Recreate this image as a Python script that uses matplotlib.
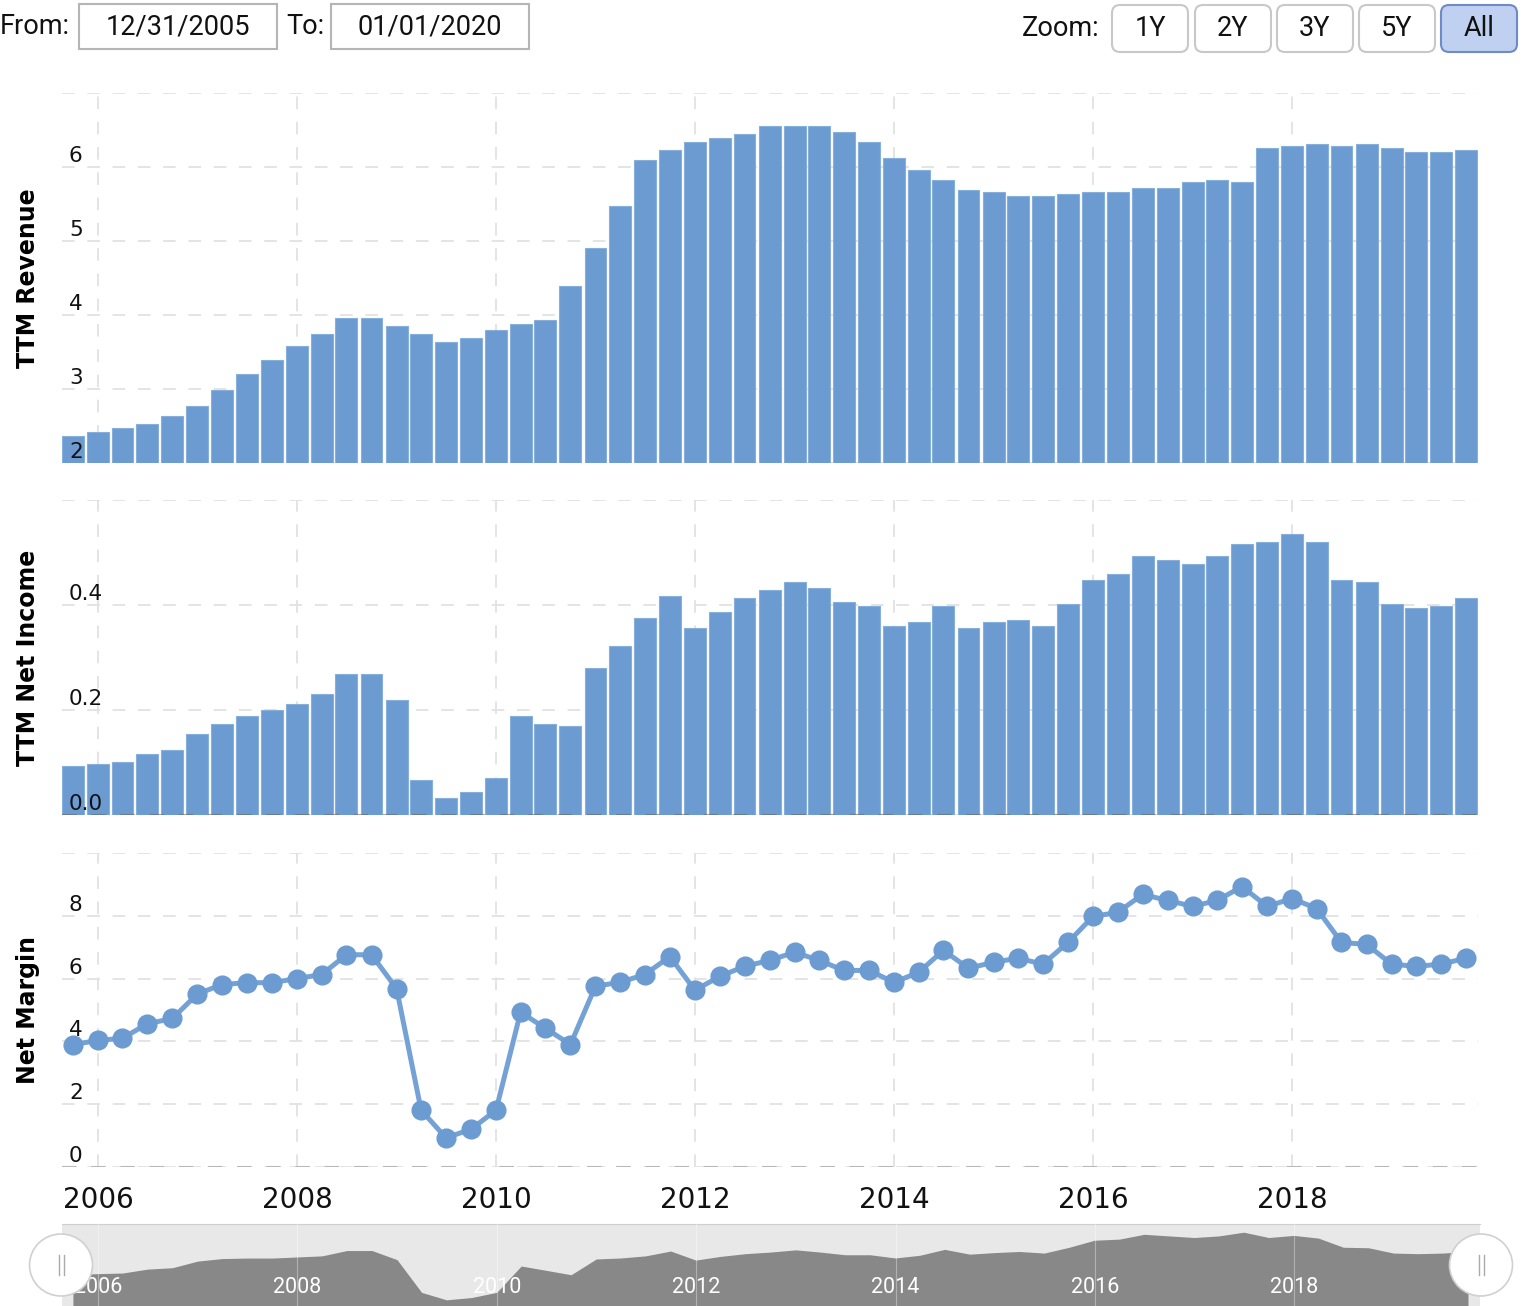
import matplotlib
matplotlib.use("Agg")
import matplotlib.pyplot as plt
import matplotlib.dates as mdates
import matplotlib.transforms as mtrans
from matplotlib.patches import FancyBboxPatch, Ellipse, Rectangle

# ---------------- data ----------------
quarters = [
    "2005-09-30", "2005-12-31",
    "2006-03-31", "2006-06-30", "2006-09-30", "2006-12-31",
    "2007-03-31", "2007-06-30", "2007-09-30", "2007-12-31",
    "2008-03-31", "2008-06-30", "2008-09-30", "2008-12-31",
    "2009-03-31", "2009-06-30", "2009-09-30", "2009-12-31",
    "2010-03-31", "2010-06-30", "2010-09-30", "2010-12-31",
    "2011-03-31", "2011-06-30", "2011-09-30", "2011-12-31",
    "2012-03-31", "2012-06-30", "2012-09-30", "2012-12-31",
    "2013-03-31", "2013-06-30", "2013-09-30", "2013-12-31",
    "2014-03-31", "2014-06-30", "2014-09-30", "2014-12-31",
    "2015-03-31", "2015-06-30", "2015-09-30", "2015-12-31",
    "2016-03-31", "2016-06-30", "2016-09-30", "2016-12-31",
    "2017-03-31", "2017-06-30", "2017-09-30", "2017-12-31",
    "2018-03-31", "2018-06-30", "2018-09-30", "2018-12-31",
    "2019-03-31", "2019-06-30", "2019-09-30",
]

ttm_revenue = [
    2.36, 2.42, 2.47, 2.53, 2.64, 2.77, 2.99, 3.20, 3.39, 3.58,
    3.74, 3.96, 3.96, 3.85, 3.74, 3.64, 3.69, 3.80, 3.88, 3.93,
    4.39, 4.91, 5.47, 6.09, 6.23, 6.34, 6.39, 6.45, 6.55, 6.55,
    6.55, 6.47, 6.34, 6.12, 5.96, 5.82, 5.69, 5.66, 5.61, 5.61,
    5.64, 5.66, 5.66, 5.72, 5.72, 5.80, 5.82, 5.80, 6.26, 6.28,
    6.31, 6.28, 6.31, 6.26, 6.20, 6.20, 6.23,
]

ttm_net_income = [
    0.093, 0.097, 0.101, 0.116, 0.124, 0.154, 0.173, 0.189, 0.200, 0.211,
    0.230, 0.269, 0.269, 0.219, 0.067, 0.032, 0.044, 0.070, 0.189, 0.173,
    0.170, 0.280, 0.322, 0.375, 0.417, 0.356, 0.387, 0.413, 0.429, 0.444,
    0.432, 0.406, 0.398, 0.360, 0.368, 0.398, 0.356, 0.368, 0.371, 0.360,
    0.402, 0.448, 0.459, 0.493, 0.486, 0.478, 0.493, 0.516, 0.520, 0.535,
    0.520, 0.448, 0.444, 0.402, 0.394, 0.398, 0.413,
]

net_margin = [
    3.90, 4.03, 4.10, 4.56, 4.73, 5.51, 5.81, 5.87, 5.87, 6.00,
    6.13, 6.76, 6.76, 5.68, 1.81, 0.93, 1.20, 1.81, 4.93, 4.42,
    3.90, 5.76, 5.88, 6.13, 6.70, 5.63, 6.07, 6.39, 6.58, 6.84,
    6.58, 6.26, 6.26, 5.88, 6.20, 6.90, 6.33, 6.52, 6.65, 6.46,
    7.15, 7.98, 8.11, 8.68, 8.49, 8.30, 8.49, 8.93, 8.30, 8.55,
    8.23, 7.15, 7.09, 6.46, 6.39, 6.46, 6.65,
]

year_ticks = [2006, 2008, 2010, 2012, 2014, 2016, 2018]
rev_grid = [2, 3, 4, 5, 6, 7]
rev_labels = ["2", "3", "4", "5", "6"]
ni_grid = [0.0, 0.2, 0.4, 0.6]
ni_labels = ["0.0", "0.2", "0.4"]
nm_grid = [0, 2, 4, 6, 8, 10]
nm_labels = ["0", "2", "4", "6", "8"]
zoom_buttons = ["1Y", "2Y", "3Y", "5Y", "All"]
from_date = "12/31/2005"
to_date = "01/01/2020"

# ---------------- style ----------------
W, H = 1522, 1306
BLUE = "#6b9bd1"
BAR_EDGE = "#86afdc"
LINE = "#74a2d6"
GRID = "#e2e2e2"

fig = plt.figure(figsize=(W / 100, H / 100), dpi=100)
fig.patch.set_facecolor("white")

x = mdates.datestr2num(quarters)
xmin = mdates.datestr2num("2005-08-21")
xmax = mdates.datestr2num("2019-11-13")
bar_w = 80.5

def frac_rect(left, top, right, bottom):
    return [left / W, 1 - bottom / H, (right - left) / W, (bottom - top) / H]

ax_rev = fig.add_axes(frac_rect(62, 93, 1478, 463))
ax_ni = fig.add_axes(frac_rect(62, 500, 1478, 815), sharex=ax_rev)
ax_nm = fig.add_axes(frac_rect(62, 853, 1478, 1167), sharex=ax_rev)

year_x = [mdates.datestr2num(f"{y}-01-01") for y in year_ticks]

def style_axis(ax, grid_vals, labels, ylim):
    ax.set_ylim(*ylim)
    ax.set_xlim(xmin, xmax)
    for s in ax.spines.values():
        s.set_visible(False)
    ax.set_yticks([])
    ax.set_xticks(year_x)
    ax.tick_params(axis="x", length=0)
    for g in grid_vals:
        ax.axhline(g, color=GRID, lw=1.3, dashes=(7, 7), zorder=0)
    for xv in year_x:
        ax.axvline(xv, color=GRID, lw=1.3, dashes=(7, 7), zorder=0)
    tr = mtrans.offset_copy(ax.get_yaxis_transform(), fig=fig, x=7, y=1, units="dots")
    for g, lab in zip(grid_vals, labels):
        ax.text(0, g, lab, transform=tr, ha="left", va="bottom",
                fontsize=15.5, color="#111111", zorder=5, family="DejaVu Sans")

# Revenue
ax_rev.bar(x, [v - 2 for v in ttm_revenue], bottom=2, width=bar_w, color=BLUE,
           edgecolor=BAR_EDGE, linewidth=0.8, zorder=2)
style_axis(ax_rev, rev_grid, rev_labels, (2, 7))
ax_rev.tick_params(axis="x", labelbottom=False)
ax_rev.set_ylabel("TTM Revenue", fontsize=17, fontweight="bold")

# Net income
ax_ni.bar(x, ttm_net_income, width=bar_w, color=BLUE,
          edgecolor=BAR_EDGE, linewidth=0.8, zorder=2)
style_axis(ax_ni, ni_grid, ni_labels, (0, 0.6))
ax_ni.axhline(0, color="#666666", alpha=0.55, lw=1.5, dashes=(7, 7), zorder=4)
ax_ni.tick_params(axis="x", labelbottom=False)
ax_ni.set_ylabel("TTM Net Income", fontsize=17, fontweight="bold")

# Net margin
ax_nm.plot(x, net_margin, color=LINE, lw=3.6, zorder=3, clip_on=False)
ax_nm.plot(x, net_margin, "o", color=BLUE, markersize=13.5, zorder=4, clip_on=False)
style_axis(ax_nm, nm_grid, nm_labels, (0, 10))
ax_nm.axhline(0, color="#b8b8b8", lw=1.5, dashes=(7, 7), zorder=1)
ax_nm.set_xticklabels([str(y) for y in year_ticks], fontsize=20, color="#111111")
ax_nm.tick_params(axis="x", pad=14)
ax_nm.set_ylabel("Net Margin", fontsize=17, fontweight="bold")

for ax in (ax_rev, ax_ni, ax_nm):
    ax.yaxis.set_label_coords(-0.0155, 0.5)

# ---------------- navigator ----------------
ax_nav = fig.add_axes(frac_rect(62, 1224, 1480, 1306))
ax_nav.set_facecolor("#e8e8e8")
ax_nav.set_xlim(xmin, xmax)
ax_nav.set_ylim(0.2, 9.9)
ax_nav.fill_between(x, net_margin, 0.2, color="#888888", lw=0, zorder=2)
for xv in year_x:
    ax_nav.axvline(xv, color="#ffffff", alpha=0.35, lw=0.8, zorder=3)
for xv, y in zip(year_x, year_ticks):
    ax_nav.text(xv, 0.23, str(y), transform=ax_nav.get_xaxis_transform(),
                ha="center", va="center", color="white", fontsize=15.5,
                family="Roboto", zorder=4)
ax_nav.set_xticks([])
ax_nav.set_yticks([])
for k, s in ax_nav.spines.items():
    s.set_visible(k == "top")
ax_nav.spines["top"].set_color("#cfcfcf")

# ---------------- overlay (pixel coords) ----------------
ov = fig.add_axes([0, 0, 1, 1])
ov.set_xlim(0, W)
ov.set_ylim(H, 0)
ov.axis("off")
ov.patch.set_visible(False)

HF = "Roboto"
ov.text(0, 27, "From:", fontsize=19.5, family=HF, va="center", ha="left", color="#111")
ov.add_patch(Rectangle((79, 4), 198, 45, fill=False, ec="#b5b5b5", lw=1.5))
ov.text(178, 27, from_date, fontsize=19.5, family=HF, va="center", ha="center", color="#111")
ov.text(286, 27, "To:", fontsize=19.5, family=HF, va="center", ha="left", color="#111")
ov.add_patch(Rectangle((331, 4), 198, 45, fill=False, ec="#b5b5b5", lw=1.5))
ov.text(430, 27, to_date, fontsize=19.5, family=HF, va="center", ha="center", color="#111")

ov.text(1022, 29, "Zoom:", fontsize=19.5, family=HF, va="center", ha="left", color="#111")
btn_left = [1112, 1195, 1277, 1359, 1441]
for bx, lab in zip(btn_left, zoom_buttons):
    active = lab == "All"
    ov.add_patch(FancyBboxPatch((bx, 5), 76, 47,
                                boxstyle="round,pad=0,rounding_size=8",
                                fc="#bfd0f1" if active else "white",
                                ec="#6f8bc7" if active else "#c8c8c8", lw=1.5))
    ov.text(bx + 38, 29, lab, fontsize=19.5, family=HF, va="center", ha="center",
            color="#111")

for hx in (61, 1481):
    ov.add_patch(Ellipse((hx, 1265), 63, 62, fc="white", ec="#d0d0d0", lw=1.2, zorder=6))
    ov.plot([hx - 2.5, hx - 2.5], [1255, 1275], color="#aaaaaa", lw=1, zorder=7)
    ov.plot([hx + 2.5, hx + 2.5], [1255, 1275], color="#aaaaaa", lw=1, zorder=7)

fig.savefig("out.png", dpi=100, facecolor="white")
